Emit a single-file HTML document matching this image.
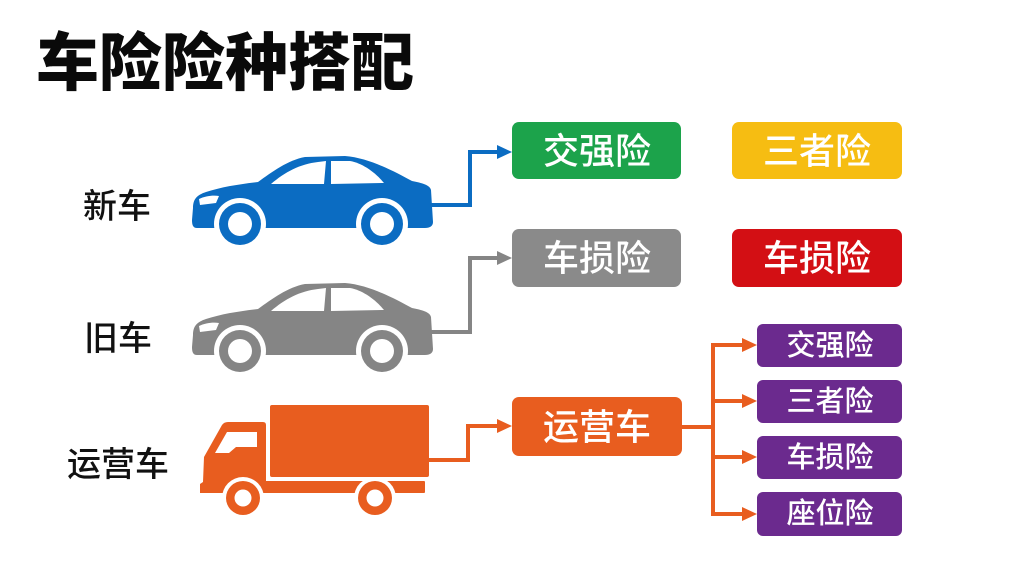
<!DOCTYPE html>
<html><head><meta charset="utf-8">
<style>
html,body{margin:0;padding:0;background:#fff;}
body{width:1024px;height:576px;overflow:hidden;}
svg{display:block;}
text{font-family:"Liberation Sans","Noto Sans CJK SC","WenQuanYi Zen Hei",sans-serif;}
</style></head>
<body>
<svg width="1024" height="576" viewBox="0 0 1024 576" xmlns="http://www.w3.org/2000/svg">
<rect width="1024" height="576" fill="#fff"/>
<!-- Title -->
<text x="36" y="64" font-size="63" font-weight="900" fill="#0a0a0a" dominant-baseline="central">车险险种搭配</text>

<!-- Left labels -->
<text x="83" y="207" font-size="34" font-weight="500" fill="#111" dominant-baseline="central">新车</text>
<text x="84" y="339" font-size="34" font-weight="500" fill="#111" dominant-baseline="central">旧车</text>
<text x="67" y="465" font-size="34" font-weight="500" fill="#111" dominant-baseline="central">运营车</text>

<defs>
<g id="car">
  <path d="M193,208 C193,199 197,195 206,192 C221,187 240,184 258,182 C272,172 288,160 305,157 L345,156 C370,158 395,172 412,181 C422,183 430,185 431,190 L433,222 C433,226 430,228 425,228 L197,228 C193,228 192,225 192,220 Z"/>
</g>
</defs>

<!-- Blue car -->
<g fill="#0b6cc2"><use href="#car"/></g>
<path d="M271,184 C285,172 300,164 318,162 L326,161 L324,184 Z" fill="#fff"/>
<path d="M331,161 L350,161 C362,163 375,172 384,183 L331,184 Z" fill="#fff"/>
<path d="M199,199 C205,196 213,195 219,196 L216,203 L200,205 Z" fill="#fff"/>
<circle cx="240" cy="224" r="26" fill="#fff"/>
<circle cx="382" cy="224" r="26" fill="#fff"/>
<circle cx="240" cy="224" r="21" fill="#0b6cc2"/>
<circle cx="382" cy="224" r="21" fill="#0b6cc2"/>
<circle cx="240" cy="224" r="12" fill="#fff"/>
<circle cx="382" cy="224" r="12" fill="#fff"/>

<!-- Gray car -->
<g transform="translate(0,127)">
<g fill="#858585"><use href="#car"/></g>
<path d="M271,184 C285,172 300,164 318,162 L326,161 L324,184 Z" fill="#fff"/>
<path d="M331,161 L350,161 C362,163 375,172 384,183 L331,184 Z" fill="#fff"/>
<path d="M199,199 C205,196 213,195 219,196 L216,203 L200,205 Z" fill="#fff"/>
<circle cx="240" cy="224" r="26" fill="#fff"/>
<circle cx="382" cy="224" r="26" fill="#fff"/>
<circle cx="240" cy="224" r="21" fill="#858585"/>
<circle cx="382" cy="224" r="21" fill="#858585"/>
<circle cx="240" cy="224" r="12" fill="#fff"/>
<circle cx="382" cy="224" r="12" fill="#fff"/>
</g>

<!-- Truck -->
<g fill="#e85d1f">
  <rect x="270" y="405" width="159" height="72" rx="2"/>
  <path d="M228,422 L263,422 Q266,422 266,425 L266,493 L200,493 L200,484 L203,482 L204,457 L222,425 Q224,422 228,422 Z"/>
  <rect x="262" y="481" width="163" height="12" rx="1"/>
</g>
<path d="M215,453 L227,432 L257,432 L257,447 L236,447 L229,453 Z" fill="#fff"/>
<circle cx="243" cy="498" r="21" fill="#fff"/>
<circle cx="375" cy="498" r="21" fill="#fff"/>
<circle cx="243" cy="498" r="17" fill="#e85d1f"/>
<circle cx="375" cy="498" r="17" fill="#e85d1f"/>
<circle cx="243" cy="498" r="8.5" fill="#fff"/>
<circle cx="375" cy="498" r="8.5" fill="#fff"/>

<!-- Connectors -->
<polyline points="431,205 470,205 470,152 500,152" fill="none" stroke="#0b6cc2" stroke-width="4"/>
<polygon points="497,145 512,152 497,159" fill="#0b6cc2"/>
<polyline points="431,332 470,332 470,258 500,258" fill="none" stroke="#858585" stroke-width="4"/>
<polygon points="497,251 512,258 497,265" fill="#858585"/>
<polyline points="428,460 468,460 468,426 500,426" fill="none" stroke="#e85d1f" stroke-width="4"/>
<polygon points="497,419 512,426 497,433" fill="#e85d1f"/>

<g stroke="#e85d1f" stroke-width="4" fill="none">
  <line x1="680" y1="427" x2="713" y2="427"/>
  <line x1="713" y1="343" x2="713" y2="516"/>
  <line x1="711" y1="345" x2="745" y2="345"/>
  <line x1="711" y1="401" x2="745" y2="401"/>
  <line x1="711" y1="457" x2="745" y2="457"/>
  <line x1="711" y1="514" x2="745" y2="514"/>
</g>
<g fill="#e85d1f">
  <polygon points="742,338 757,345 742,352"/>
  <polygon points="742,394 757,401 742,408"/>
  <polygon points="742,450 757,457 742,464"/>
  <polygon points="742,507 757,514 742,521"/>
</g>

<!-- Boxes -->
<rect x="512" y="122" width="169" height="57" rx="7" fill="#1ca34b"/>
<rect x="732" y="122" width="170" height="57" rx="7" fill="#f6bd12"/>
<rect x="512" y="229" width="169" height="58" rx="7" fill="#8a8a8a"/>
<rect x="732" y="229" width="170" height="58" rx="7" fill="#d30f14"/>
<rect x="512" y="397" width="170" height="59" rx="7" fill="#e85d1f"/>
<g fill="#6b2a8e">
  <rect x="757" y="324" width="145" height="43" rx="6"/>
  <rect x="757" y="380" width="145" height="43" rx="6"/>
  <rect x="757" y="436" width="145" height="43" rx="6"/>
  <rect x="757" y="492" width="145" height="44" rx="6"/>
</g>

<g fill="#fff" font-weight="500" text-anchor="middle" dominant-baseline="central">
  <text x="597" y="151" font-size="36">交强险</text>
  <text x="817" y="151" font-size="36">三者险</text>
  <text x="597" y="258" font-size="36">车损险</text>
  <text x="817" y="258" font-size="36">车损险</text>
  <text x="597" y="427" font-size="36">运营车</text>
  <text x="830" y="346" font-size="29">交强险</text>
  <text x="830" y="402" font-size="29">三者险</text>
  <text x="830" y="458" font-size="29">车损险</text>
  <text x="830" y="514" font-size="29">座位险</text>
</g>
</svg>
</body></html>
